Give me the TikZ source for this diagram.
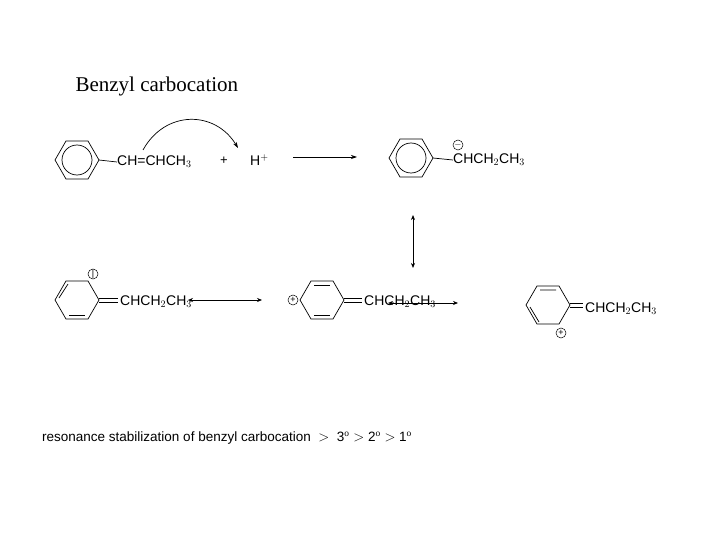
\documentclass[tikz,border=0pt]{standalone}
\usepackage{fontspec}
\setmainfont{Liberation Serif}
\setsansfont{Liberation Sans}
\usetikzlibrary{arrows.meta}
\begin{document}
\begin{tikzpicture}[x=1pt,y=-1pt,
  bond/.style={line width=0.7pt},
  lbl/.style={font=\sffamily\fontsize{14}{16}\selectfont,anchor=west,inner sep=0pt},
  rxn/.style={line width=0.7pt,-{Stealth[length=6pt,width=4pt]}},
  res/.style={line width=0.7pt,{Stealth[length=5pt,width=4pt]}-{Stealth[length=5pt,width=4pt]}},
  chg/.style={circle,draw,line width=0.5pt,inner sep=0pt,minimum size=10pt,font=\sffamily\fontsize{9}{9}\selectfont}]
\useasboundingbox (0,0) rectangle (720,540);
\node[anchor=west,font=\fontsize{21}{24}\selectfont] (title) at (72,86) {Benzyl carbocation};
% ring 1 (aromatic)
\draw[bond] (55,160)--(66,141)--(88,141)--(99,160)--(88,179)--(66,179)--cycle;
\draw[bond] (77,160) circle (15);
\coordinate (r1) at (99,160);
\node[lbl] (t1) at (117,162) {CH=CHCH$_3$};
\draw[bond] (r1)--(t1.west);
\node[font=\sffamily\fontsize{13}{13}\selectfont] (plus) at (224,161) {+};
\node[lbl] (h) at (250,160) {H$^+$};
\coordinate (ca) at (143,150);
\draw[bond,-{Stealth[length=6pt,width=4pt]}] (ca) .. controls (165,110) and (215,110) .. (238,148);
\coordinate (a1s) at (293,157); \coordinate (a1e) at (357,157);
\draw[rxn] (a1s)--(a1e);
% ring 2 aromatic
\draw[bond] (389,158)--(400,139)--(422,139)--(433,158)--(422,177)--(400,177)--cycle;
\draw[bond] (411,158) circle (15);
\node[lbl] (t2) at (453,160) {CHCH$_2$CH$_3$};
\draw[bond] (433,158)--(t2.west);
\node[chg] (m1) at (458,145) {$-$};
\coordinate (v1) at (413,215); \coordinate (v2) at (413,268);
\draw[res] (v1)--(v2);
% row 2 ring A
\draw[bond] (55,300)--(66,281)--(88,281)--(99,300)--(88,319)--(66,319)--cycle;
\draw[bond] (59,298)--(68,284);
\draw[bond] (69,315)--(85,315);
\draw[bond] (99,298)--(118,298) (99,302)--(118,302);
\node[lbl] (t3) at (120,302) {CHCH$_2$CH$_3$};
\node[chg] (c1) at (93,274) {|};
\draw[res] (188,300)--(262,300);
% ring B
\draw[bond] (300,300)--(311,281)--(333,281)--(344,300)--(333,319)--(311,319)--cycle;
\draw[bond] (314,285)--(330,285) (314,315)--(330,315);
\draw[bond] (344,298)--(362,298) (344,302)--(362,302);
\node[lbl] (t4) at (364,302) {CHCH$_2$CH$_3$};
\node[chg] (c2) at (293,300) {+};
\draw[res] (388,303)--(458,303);
% ring C
\draw[bond] (526,305)--(537,286)--(559,286)--(570,305)--(559,324)--(537,324)--cycle;
\draw[bond] (540,290)--(556,290) (530,307)--(539,322);
\draw[bond] (570,303)--(583,303) (570,307)--(583,307);
\node[lbl] (t5) at (585,309) {CHCH$_2$CH$_3$};
\node[chg] (c3) at (561,333) {+};
\node[lbl,font=\sffamily\fontsize{13.5}{16}\selectfont] (bot) at (42,438) {resonance stabilization of benzyl carbocation~~$>$~~3$^{\mathrm{o}}$ $>$ 2$^{\mathrm{o}}$ $>$ 1$^{\mathrm{o}}$};
\end{tikzpicture}
\end{document}
